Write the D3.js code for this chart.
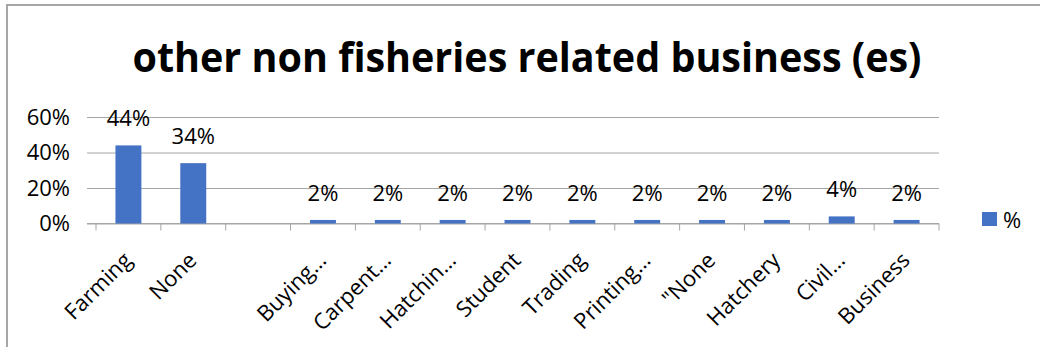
<!DOCTYPE html>
<html>
<head>
<meta charset="utf-8">
<script src="https://cdn.jsdelivr.net/npm/d3@7"></script>
<style>
  body { margin: 0; background: #fff; }
  svg { display: block; font-family: "Open Sans", sans-serif; }
</style>
</head>
<body>
<div id="chart"></div>
<script>
// data
var categories = ["Farming", "None", "", "Buying\u2026", "Carpent\u2026", "Hatchin\u2026", "Student",
                  "Trading", "Printing\u2026", "\"None", "Hatchery", "Civil\u2026", "Business"];
var values = [44, 34, null, 2, 2, 2, 2, 2, 2, 2, 2, 4, 2];
var yTicks = [0, 20, 40, 60];
var seriesName = "%";
var title = "other non fisheries related business (es)";

var width = 1040, height = 347;
var barColor = "#4472C4", gridColor = "#a6a6a6";

var svg = d3.select("#chart").append("svg")
    .attr("width", width)
    .attr("height", height);

// chart frame (only top and left edges show)
svg.append("rect")
    .attr("x", 7).attr("y", 5)
    .attr("width", width + 20).attr("height", height + 20)
    .attr("fill", "none")
    .attr("stroke", gridColor)
    .attr("stroke-width", 2);

var x = d3.scaleBand()
    .domain(d3.range(categories.length))
    .range([96, 939])
    .paddingInner(0.6)
    .paddingOuter(0.3);

var y = d3.scaleLinear()
    .domain([0, 60])
    .range([223.5, 117]);

// gridlines + y labels
var yAxis = d3.axisLeft(y)
    .tickValues(yTicks)
    .tickSize(-(939 - 87))
    .tickFormat(function(d) { return d + "%"; })
    .tickPadding(17);

var gy = svg.append("g")
    .attr("transform", "translate(87,0)")
    .call(yAxis);
gy.select(".domain").remove();
gy.selectAll(".tick line").attr("stroke", gridColor);
gy.selectAll(".tick text")
    .attr("fill", "#000")
    .style("font-size", "22px")
    .attr("font-family", "Open Sans");

// x axis line and tick marks between categories
var xb = svg.append("g");
xb.append("line")
    .attr("x1", 87).attr("x2", 939)
    .attr("y1", y(0)).attr("y2", y(0))
    .attr("stroke", gridColor);
var step = x.step();
xb.selectAll(".xt")
    .data(d3.range(categories.length + 1))
  .enter().append("line")
    .attr("class", "xt")
    .attr("x1", function(i) { return x.range()[0] + i * step; })
    .attr("x2", function(i) { return x.range()[0] + i * step; })
    .attr("y1", y(0)).attr("y2", y(0) + 7)
    .attr("stroke", gridColor);

// bars
var data = values.map(function(v, i) { return { i: i, v: v }; })
    .filter(function(d) { return d.v != null; });

svg.selectAll(".bar")
    .data(data)
  .enter().append("rect")
    .attr("class", "bar")
    .attr("x", function(d) { return x(d.i); })
    .attr("width", x.bandwidth())
    .attr("y", function(d) { return y(d.v); })
    .attr("height", function(d) { return y(0) - y(d.v); })
    .attr("fill", barColor);

// value labels
svg.selectAll(".vlab")
    .data(data)
  .enter().append("text")
    .attr("class", "vlab")
    .attr("x", function(d) { return x(d.i) + x.bandwidth() / 2; })
    .attr("y", function(d) { return y(d.v) - 19; })
    .attr("text-anchor", "middle")
    .style("font-size", "22px")
    .text(function(d) { return d.v + "%"; });

// category labels, rotated
svg.selectAll(".clab")
    .data(categories)
  .enter().append("text")
    .attr("class", "clab")
    .attr("text-anchor", "end")
    .attr("transform", function(d, i) {
      var cx = x(i) + x.bandwidth() / 2;
      return "translate(" + (cx - 7) + "," + 250 + ") rotate(-45)";
    })
    .attr("dy", "0.75em")
    .style("font-size", "22px")
    .text(function(d) { return d; });

// title, stretched to the width seen in the picture
svg.append("text")
    .attr("x", 527)
    .attr("y", 72)
    .attr("text-anchor", "middle")
    .attr("textLength", 789)
    .attr("lengthAdjust", "spacingAndGlyphs")
    .style("font-weight", "bold")
    .style("font-size", "42px")
    .text(title);

// legend
svg.append("rect")
    .attr("x", 982).attr("y", 212)
    .attr("width", 15).attr("height", 14)
    .attr("fill", barColor);
svg.append("text")
    .attr("x", 1003).attr("y", 228)
    .style("font-size", "22px")
    .text(seriesName);
</script>
</body>
</html>
